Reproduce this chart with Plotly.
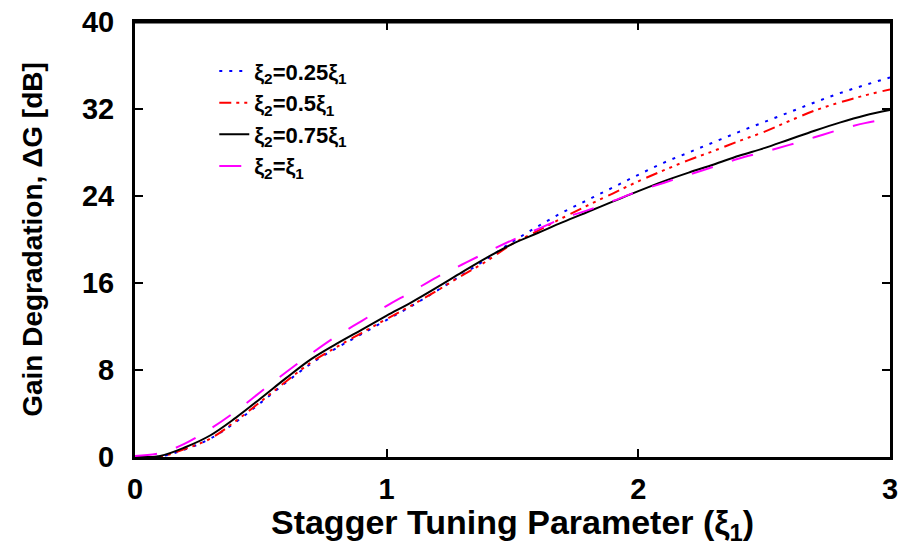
import plotly.graph_objects as go

xi1 = [round(0.1 * i, 1) for i in range(31)]

g_025 = [0, 0.05, 0.7, 1.7, 3.2, 5.0, 6.85, 8.6, 10.0, 11.3, 12.6, 13.9, 15.3, 16.75, 18.25,
         19.8, 21.2, 22.5, 23.65, 24.8, 25.95, 27.05, 28.0, 28.95, 29.9, 30.8, 31.7, 32.6,
         33.45, 34.2, 34.9]
g_05 = [0, 0.05, 0.75, 1.7, 3.3, 5.1, 6.95, 8.7, 10.1, 11.4, 12.7, 13.95, 15.3, 16.7, 18.05,
        19.6, 20.8, 22.0, 23.15, 24.25, 25.35, 26.35, 27.3, 28.15, 29.05, 29.9, 30.9, 31.85,
        32.6, 33.25, 33.8]
g_075 = [0, 0.1, 0.9, 2.0, 3.6, 5.4, 7.25, 9.0, 10.4, 11.7, 13.0, 14.25, 15.6, 17.0, 18.35,
         19.6, 20.6, 21.6, 22.55, 23.5, 24.45, 25.35, 26.15, 26.9, 27.7, 28.4, 29.2, 30.0,
         30.75, 31.4, 31.9]
g_1 = [0.1, 0.35, 1.25, 2.6, 4.2, 6.0, 7.8, 9.5, 11.1, 12.5, 13.9, 15.2, 16.55, 17.7, 18.85,
       19.95, 20.95, 21.95, 22.7, 23.55, 24.45, 25.2, 25.95, 26.7, 27.45, 28.05, 28.7, 29.4,
       30.1, 30.7, 31.15]

x_ticks = [0, 1, 2, 3]
y_ticks = [0, 8, 16, 24, 32, 40]

names = ["ξ<sub>2</sub>=0.25ξ<sub>1</sub>", "ξ<sub>2</sub>=0.5ξ<sub>1</sub>",
         "ξ<sub>2</sub>=0.75ξ<sub>1</sub>", "ξ<sub>2</sub>=ξ<sub>1</sub>"]
series = [g_025, g_05, g_075, g_1]
colors = ["#0000ff", "#ff0000", "#000000", "#ff00ff"]
dashes = ["3px,7px", "12px,5px,3px,5px,3px,5px,3px,6px", "solid", "22px,20px"]
widths = [2, 2, 2, 2]

FONT = "Liberation Sans, Arial, sans-serif"

fig = go.Figure()
for n, s, c, d, w in zip(names, series, colors, dashes, widths):
    fig.add_trace(go.Scatter(x=xi1, y=s, mode="lines", name=n,
                             line=dict(color=c, dash=d, width=w, shape="spline")))

# top edge of the plot frame, along the upper end of the y range
fig.add_trace(go.Scatter(x=[x_ticks[0], x_ticks[-1]], y=[y_ticks[-1], y_ticks[-1]],
                         mode="lines", line=dict(color="black", width=3),
                         cliponaxis=False, showlegend=False, hoverinfo="skip"))

axis_common = dict(showgrid=False, zeroline=False, showline=True, linecolor="black",
                   linewidth=3, mirror="allticks", ticks="inside", ticklen=8, tickwidth=2,
                   tickcolor="black", ticklabeloverflow="allow",
                   tickfont=dict(family=FONT, size=29, color="black", weight="bold"))

fig.update_layout(
    width=904, height=546,
    margin=dict(l=135, r=6, t=21, b=89),
    paper_bgcolor="white", plot_bgcolor="white",
    xaxis=dict(range=[0, 3], tickvals=x_ticks, ticklabelstandoff=4,
               title=dict(text="Stagger Tuning Parameter (ξ<sub>1</sub>)", standoff=0,
                          font=dict(family=FONT, size=34, color="black", weight="bold")),
               **axis_common),
    yaxis=dict(range=[0, 40], tickvals=y_ticks, ticklabelstandoff=12,
               title=dict(text="Gain Degradation, ΔG [dB]", standoff=32,
                          font=dict(family=FONT, size=28, color="black", weight="bold")),
               **axis_common),
    legend=dict(x=0.105, y=0.935, xanchor="left", yanchor="top",
                bgcolor="rgba(0,0,0,0)", borderwidth=0, tracegroupgap=0,
                font=dict(family=FONT, size=22, color="black", weight="bold")),
    showlegend=True,
)

fig.write_html("out.html", config={"displayModeBar": False},
               post_script="document.body.style.margin='0px';")
